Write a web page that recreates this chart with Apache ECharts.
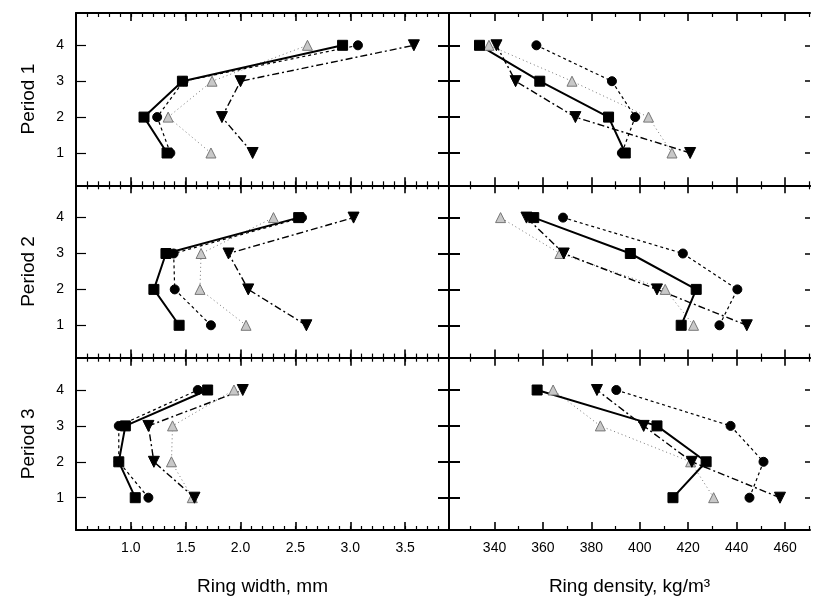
<!DOCTYPE html>
<html>
<head>
<meta charset="utf-8">
<title>Ring width and density by period</title>
<script src="https://cdn.jsdelivr.net/npm/echarts@6/dist/echarts.min.js"></script>
<style>
    html, body {margin: 0; padding: 0; background: #fff;}
    #main {width: 815px; height: 605px;}
</style>
</head>
<body>
<div id="main"></div>
<script>
// rows of the figure, levels on the y axis
var periods = ['Period 1', 'Period 2', 'Period 3'];
var levels = [1, 2, 3, 4];

// ring width, mm  (one row per period, values for level 1..4)
var widthSquare  = [[1.33, 1.12, 1.47, 2.93], [1.44, 1.21, 1.32, 2.53], [1.04, 0.89, 0.95, 1.70]];
var widthCircle  = [[1.36, 1.24, 1.48, 3.07], [1.73, 1.40, 1.39, 2.56], [1.16, 0.89, 0.89, 1.61]];
var widthTriUp   = [[1.73, 1.34, 1.74, 2.61], [2.05, 1.63, 1.64, 2.30], [1.56, 1.37, 1.38, 1.94]];
var widthTriDown = [[2.11, 1.83, 2.00, 3.58], [2.60, 2.07, 1.89, 3.03], [1.58, 1.21, 1.16, 2.02]];

// ring density, kg/m3
var densSquare  = [[394.0, 387.1, 358.7, 333.8], [417.1, 423.3, 396.1, 356.2], [413.7, 427.4, 407.1, 357.6]];
var densCircle  = [[392.6, 398.1, 388.5, 357.3], [432.9, 440.3, 417.8, 368.3], [445.3, 451.1, 437.5, 390.3]];
var densTriUp   = [[413.3, 403.6, 372.0, 337.7], [422.2, 410.5, 367.0, 342.5], [430.5, 421.0, 383.7, 364.2]];
var densTriDown = [[420.8, 373.4, 348.7, 340.8], [444.2, 407.1, 368.6, 353.2], [457.9, 421.5, 401.6, 382.3]];

// tick labels
var widthTicks = [1.0, 1.5, 2.0, 2.5, 3.0, 3.5];
var densTicks = [340, 360, 380, 400, 420, 440, 460];

var font = 'Liberation Sans, Arial, sans-serif';

function steps(from, to, step) {
    var out = [];
    for (var v = from; v <= to + 1e-9; v += step) {
        out.push(Math.round(v * 100) / 100);
    }
    return out;
}

var widthMinor = steps(0.6, 3.8, 0.1);
var densMinor = steps(330, 470, 20);

var grids = [], xAxes = [], yAxes = [], series = [];
var tops = [13, 185.3, 357.7];

var styles = [
    {name: 'triUp',   symbol: 'triangle', rotate: 0,   size: 10, color: '#c8c8c8', border: '#777', line: {color: '#777', width: 1, type: [1, 3]}},
    {name: 'circle',  symbol: 'circle',   rotate: 0,   size: 9,  color: '#000', border: '#000', line: {color: '#000', width: 1.2, type: [3, 3]}},
    {name: 'triDown', symbol: 'triangle', rotate: 180, size: 11, color: '#000', border: '#000', line: {color: '#000', width: 1.4, type: [7, 3, 2, 3]}},
    {name: 'square',  symbol: 'rect',     rotate: 0,   size: 10, color: '#000', border: '#000', line: {color: '#000', width: 2, type: 'solid'}}
];

for (var r = 0; r < 3; r++) {
    for (var c = 0; c < 2; c++) {
        var g = grids.length;
        var isWidth = (c == 0);
        grids.push({
            left: isWidth ? 76 : 449,
            width: isWidth ? 373 : 361,
            top: tops[r],
            height: 172.3
        });
        var min = isWidth ? 0.5 : 321.2;
        var max = isWidth ? 3.9 : 470.3;
        var majors = isWidth ? widthTicks : densTicks;
        var minors = isWidth ? widthMinor : densMinor;
        var last = (r == 2);

        // bottom axis: line, minor ticks, labels
        var xMain = xAxes.length;
        xAxes.push({
            gridIndex: g, type: 'value', position: 'bottom', min: min, max: max,
            axisLine: {onZero: false, lineStyle: {color: '#000', width: 2}},
            axisTick: {inside: true, length: 4, customValues: minors, lineStyle: {color: '#000', width: 1.2}},
            axisLabel: {
                show: last, customValues: majors, margin: 11,
                color: '#000', fontFamily: font, fontSize: 14,
                formatter: function (v) { return v < 10 ? v.toFixed(1) : String(v); }
            },
            splitLine: {show: false},
            name: last ? (isWidth ? 'Ring width, mm' : 'Ring density, kg/m³') : '',
            nameLocation: 'middle', nameGap: 47,
            nameTextStyle: {color: '#000', fontFamily: font, fontSize: 19}
        });
        // bottom major ticks
        xAxes.push({
            gridIndex: g, type: 'value', position: 'bottom', min: min, max: max,
            axisLine: {show: false},
            axisTick: {inside: true, length: 8, customValues: majors, lineStyle: {color: '#000', width: 1.6}},
            axisLabel: {show: false}, splitLine: {show: false}
        });
        // top border with ticks
        xAxes.push({
            gridIndex: g, type: 'value', position: 'top', min: min, max: max,
            axisLine: {onZero: false, lineStyle: {color: '#000', width: 2}},
            axisTick: {inside: true, length: 4, customValues: minors, lineStyle: {color: '#000', width: 1.2}},
            axisLabel: {show: false}, splitLine: {show: false}
        });
        xAxes.push({
            gridIndex: g, type: 'value', position: 'top', min: min, max: max,
            axisLine: {show: false},
            axisTick: {inside: true, length: 8, customValues: majors, lineStyle: {color: '#000', width: 1.6}},
            axisLabel: {show: false}, splitLine: {show: false}
        });

        var yMain = yAxes.length;
        yAxes.push({
            gridIndex: g, type: 'value', position: 'left', min: 0.1, max: 4.9,
            axisLine: {onZero: false, lineStyle: {color: '#000', width: 2}},
            axisTick: {inside: true, length: isWidth ? 10 : 11, customValues: levels, lineStyle: {color: '#000', width: isWidth ? 1.2 : 2}},
            axisLabel: {show: isWidth, customValues: levels, margin: 12, color: '#000', fontFamily: font, fontSize: 14},
            splitLine: {show: false},
            name: isWidth ? periods[r] : '',
            nameLocation: 'middle', nameRotate: 90, nameGap: 38,
            nameTextStyle: {color: '#000', fontFamily: font, fontSize: 19}
        });
        if (!isWidth) {
            // ticks reaching into the left panel
            yAxes.push({
                gridIndex: g, type: 'value', position: 'left', min: 0.1, max: 4.9,
                axisLine: {show: false},
                axisTick: {inside: false, length: 11, customValues: levels, lineStyle: {color: '#000', width: 2}},
                axisLabel: {show: false}, splitLine: {show: false}
            });
            // short ticks on the open right edge
            yAxes.push({
                gridIndex: g, type: 'value', position: 'right', min: 0.1, max: 4.9,
                axisLine: {show: false},
                axisTick: {inside: true, length: 5, customValues: levels, lineStyle: {color: '#000', width: 1.5}},
                axisLabel: {show: false}, splitLine: {show: false}
            });
        }

        var sets = isWidth
            ? [widthTriUp, widthCircle, widthTriDown, widthSquare]
            : [densTriUp, densCircle, densTriDown, densSquare];
        for (var s = 0; s < styles.length; s++) {
            var st = styles[s];
            var vals = sets[s][r];
            series.push({
                type: 'line',
                name: st.name,
                xAxisIndex: xMain,
                yAxisIndex: yMain,
                symbol: st.symbol,
                symbolSize: st.size,
                symbolRotate: st.rotate,
                showAllSymbol: true,
                animation: false,
                lineStyle: st.line,
                itemStyle: {color: st.color, borderColor: st.border, borderWidth: 1},
                data: levels.map(function (lv, i) { return [vals[i], lv]; })
            });
        }
    }
}

var chart = echarts.init(document.getElementById('main'));
var option = {
    backgroundColor: '#fff',
    animation: false,
    grid: grids,
    xAxis: xAxes,
    yAxis: yAxes,
    series: series
};
chart.setOption(option);
</script>
</body>
</html>
